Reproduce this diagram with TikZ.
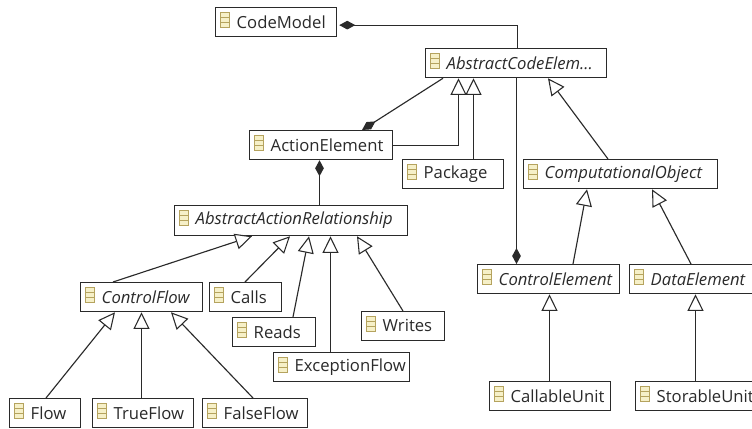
\documentclass[tikz,border=0pt]{standalone}
\usepackage{fontspec}
\setmainfont{Open Sans}
\usetikzlibrary{calc,arrows.meta}
\definecolor{ink}{HTML}{2A2A2A}
\definecolor{icoedge}{HTML}{B5A35E}
\definecolor{icofill}{HTML}{F6F0C8}
\tikzset{
  x=0.75pt,y=-0.75pt,
  clsbox/.style={draw=ink,line width=0.95pt,fill=white,rectangle,inner sep=0pt,anchor=north west,text=ink,font=\fontsize{12.5pt}{14pt}\selectfont},
  line/.style={draw=ink,line width=0.85pt},
  gen/.style={line,-{Triangle[open,length=12.5pt,width=12pt,line width=0.8pt,fill=white]}},
  comp/.style={line,-{Diamond[length=12pt,width=6.5pt,fill=ink]}},
  icorow/.style={draw=icoedge,fill=icofill,line width=0.7pt}
}
\newlength{\bw}\newlength{\bh}
% \cls{name}{x1}{y1}{x2}{y2}{text}
\newcommand{\cls}[6]{%
  \setlength{\bw}{\dimexpr(#4pt-#2pt)*3/4\relax}%
  \setlength{\bh}{\dimexpr(#5pt-#3pt)*3/4\relax}%
  \node[clsbox,minimum width=\bw,minimum height=\bh] (#1) at (#2,#3)
    {\makebox[\bw][l]{\hspace{15.8pt}\raisebox{0.6pt}{#6}}};
  \draw[icorow] ($(#1.north west)+(5,5.5)$) rectangle +(9,14.5);
  \draw[icoedge,line width=0.7pt] ($(#1.north west)+(5,10.3)$) -- +(9,0);
  \draw[icoedge,line width=0.7pt] ($(#1.north west)+(5,15.1)$) -- +(9,0);
}
\begin{document}
\begin{tikzpicture}
\useasboundingbox (0,0) rectangle (752,428);
\fill[white] (0,0) rectangle (752,428);
\cls{codemodel}{215}{7}{336}{36}{CodeModel}
\cls{ace}{425}{48}{606}{77}{\textit{AbstractCodeElem...}}
\cls{action}{249}{130}{392}{159}{ActionElement}
\cls{package}{402}{159}{503}{188}{Package}
\cls{aar}{174}{205}{407}{235}{\textit{AbstractActionRelationship}}
\cls{cflow}{80}{282}{202}{311}{\textit{ControlFlow}}
\cls{calls}{209}{282}{281}{311}{Calls}
\cls{reads}{232}{317}{315}{346}{Reads}
\cls{writes}{361}{311}{444}{340}{Writes}
\cls{exc}{273}{352}{409}{381}{ExceptionFlow}
\cls{flow}{9}{398}{80}{427}{Flow}
\cls{tflow}{92}{398}{193}{427}{TrueFlow}
\cls{fflow}{202}{398}{307}{427}{FalseFlow}
\cls{cobj}{523}{159}{717}{188}{\textit{ComputationalObject}}
\cls{ctrl}{477}{264}{619}{293}{\textit{ControlElement}}
\cls{data}{629}{264}{754}{293}{\textit{DataElement}}
\cls{callable}{489}{381}{610}{410}{CallableUnit}
\cls{storable}{635}{381}{754}{410}{StorableUnit}
% composition
\draw[comp] ($(ace.north west)+(92.5,0)$) |- ($(codemodel.east)+(2,3)$);
\draw[comp] ($(ace.south west)+(18,0)$) -- ($(action.north west)+(113,0)$);
\draw[comp] ($(aar.north west)+(145.5,0)$) -- ($(action.south west)+(70.5,0)$);
\draw[comp] ($(ace.south west)+(91.5,0)$) -- ($(ctrl.north west)+(39.5,0)$);
% generalisation
\draw[gen] (action.east) -| ($(ace.south west)+(33.5,0)$);
\draw[gen] ($(package.north west)+(71.5,0)$) -- ($(ace.south west)+(48.5,0)$);
\draw[gen] ($(cobj.north west)+(85,0)$) -- ($(ace.south west)+(123,0)$);
\draw[gen] ($(cflow.north west)+(33,0)$) -- ($(aar.south west)+(78,0)$);
\draw[gen] ($(calls.north west)+(36,0)$) -- ($(aar.south west)+(116,0)$);
\draw[gen] ($(reads.north west)+(61,0)$) -- ($(aar.south west)+(135,0)$);
\draw[gen] ($(exc.north west)+(57.5,0)$) -- ($(aar.south west)+(156.5,0)$);
\draw[gen] ($(writes.north west)+(42,0)$) -- ($(aar.south west)+(183,0)$);
\draw[gen] ($(flow.north west)+(37,0)$) -- ($(cflow.south west)+(35,0)$);
\draw[gen] ($(tflow.north west)+(49.5,0)$) -- ($(cflow.south west)+(61.5,0)$);
\draw[gen] ($(fflow.north west)+(51,0)$) -- ($(cflow.south west)+(91,0)$);
\draw[gen] ($(ctrl.north west)+(96,0)$) -- ($(cobj.south west)+(64,0)$);
\draw[gen] ($(data.north west)+(62,0)$) -- ($(cobj.south west)+(129,0)$);
\draw[gen] ($(callable.north west)+(60.5,0)$) -- ($(ctrl.south west)+(72.5,0)$);
\draw[gen] ($(storable.north west)+(60.5,0)$) -- ($(data.south west)+(66.5,0)$);
\end{tikzpicture}
\end{document}
